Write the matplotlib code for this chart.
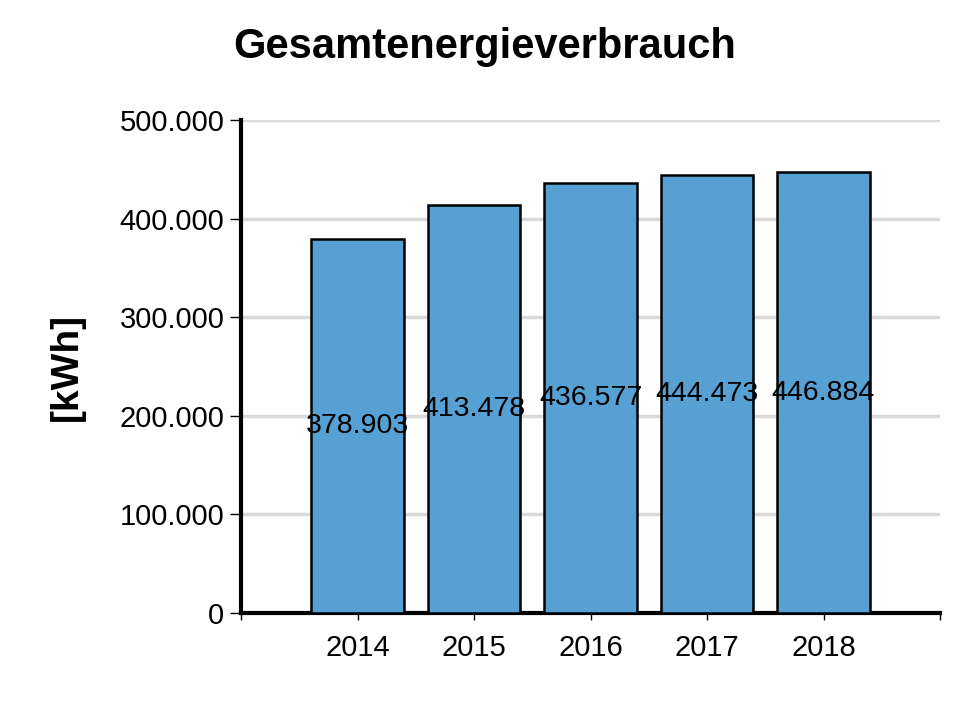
import matplotlib
matplotlib.use("Agg")
import matplotlib.pyplot as plt

years = ["2014", "2015", "2016", "2017", "2018"]
values = [378903, 413478, 436577, 444473, 446884]
yticks = [0, 100000, 200000, 300000, 400000, 500000]
ytick_labels = ["0", "100.000", "200.000", "300.000", "400.000", "500.000"]
title = "Gesamtenergieverbrauch"
ylabel = "[kWh]"

def fmt(v):
    return f"{v:,}".replace(",", ".")

plt.rcParams['font.family'] = ['Liberation Sans', 'DejaVu Sans']
fig = plt.figure(figsize=(9.74, 7.03), dpi=100)
ax = fig.add_axes([241/974, 1-613/703, (940-241)/974, (613-120)/703])

pos = list(range(1, len(years) + 1))
ax.set_axisbelow(True)
ax.yaxis.grid(True, color='#d9d9d9', linewidth=2.5)
ax.bar(pos, values, width=0.79, color='#56a0d3', edgecolor='black', linewidth=1.8, zorder=3)
for p, v in zip(pos, values):
    ax.text(p, v / 2, fmt(v), ha='center', va='center', fontsize=20.5, color='black', zorder=4)

ax.set_xlim(0, 6)
ax.set_ylim(0, 500000)
ax.set_xticks(range(0, 7))
ax.set_xticklabels([""] + years + [""], fontsize=21)
ax.set_yticks(yticks)
ax.set_yticklabels(ytick_labels, fontsize=21)
ax.tick_params(axis='x', length=5, width=1, direction='out', pad=10)
ax.tick_params(axis='y', length=8, width=1, direction='out', pad=4)
for s in ['top', 'right']:
    ax.spines[s].set_visible(False)
for s in ['left', 'bottom']:
    ax.spines[s].set_linewidth(3)

fig.text(485/974, 1-47/703, title, ha='center', va='center', fontsize=30, fontweight='bold')
fig.text(67/974, 1-367/703, ylabel, ha='center', va='center', fontsize=28, fontweight='bold', rotation=90)

fig.savefig("out.png", dpi=100)
